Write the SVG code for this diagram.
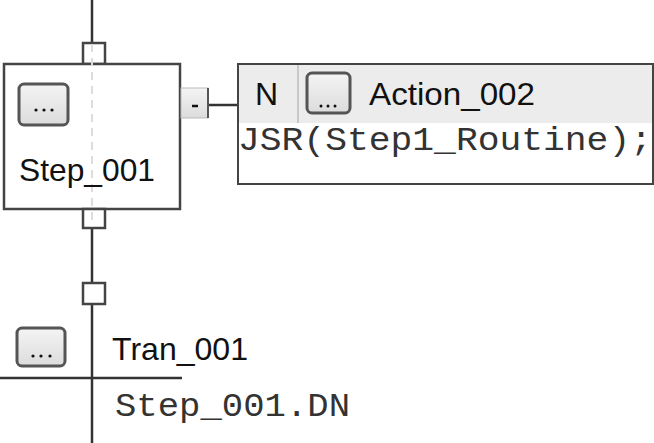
<svg xmlns="http://www.w3.org/2000/svg" width="654" height="443" viewBox="0 0 654 443">
<style>
.wire{stroke:#333;stroke-width:2.5;fill:none}
.box{fill:#fff;stroke:#444;stroke-width:2.5}
.conn{fill:#fff;stroke:#444;stroke-width:2.5}
.btn{fill:url(#g);stroke:#555;stroke-width:3}
.lbl{font-family:"Liberation Sans",Arial,sans-serif;font-size:32px;fill:#111}
.mono{font-family:"Liberation Mono","Courier New",monospace;font-size:34px;fill:#333}
.dot{fill:#111}
</style>
<defs>
<linearGradient id="g" x1="0" y1="0" x2="0" y2="1">
<stop offset="0" stop-color="#f4f4f4"/>
<stop offset="1" stop-color="#dcdcdc"/>
</linearGradient>
</defs>
<g id="connectors">
<line class="wire" x1="92" y1="0" x2="92" y2="43"/>
<line class="wire" x1="92" y1="228" x2="92" y2="283"/>
<line class="wire" x1="92" y1="304" x2="92" y2="443"/>
<line class="wire" x1="209" y1="105" x2="238" y2="105"/>
<line class="wire" x1="0" y1="378" x2="182" y2="378"/>
</g>
<g id="step_001">
<rect class="conn" x="83" y="43" width="22" height="21"/>
<rect class="box" x="4" y="64" width="176" height="145"/>
<rect class="conn" x="83" y="209" width="22" height="19"/>
<line x1="92" y1="44" x2="92" y2="227" stroke="#ddd" stroke-width="2" stroke-dasharray="8,6"/>
<rect class="btn" x="19" y="84" width="49" height="41" rx="5"/>
<circle class="dot" cx="36" cy="110" r="1.6"/><circle class="dot" cx="44" cy="110" r="1.6"/><circle class="dot" cx="52" cy="110" r="1.6"/>
<text class="lbl" x="19" y="181" textLength="136" lengthAdjust="spacingAndGlyphs">Step_001</text>
<rect x="181" y="88" width="27" height="30" fill="url(#g)" stroke="#bbb" stroke-width="1"/>
<line x1="208" y1="88" x2="208" y2="118" stroke="#555" stroke-width="2"/>
<line x1="192" y1="106" x2="198" y2="106" stroke="#111" stroke-width="2.5"/>
</g>
<g id="action_002">
<rect x="238" y="64" width="415" height="120" fill="#fff" stroke="#444" stroke-width="2"/>
<rect x="239" y="65" width="413" height="58" fill="#ececec"/>
<line x1="298" y1="65" x2="298" y2="123" stroke="#c8c8c8" stroke-width="2"/>
<text class="lbl" x="255" y="105">N</text>
<rect class="btn" x="307" y="73" width="43" height="40" rx="5"/>
<circle class="dot" cx="321" cy="106" r="1.5"/><circle class="dot" cx="328" cy="106" r="1.5"/><circle class="dot" cx="335" cy="106" r="1.5"/>
<text class="lbl" x="369" y="105" textLength="166" lengthAdjust="spacingAndGlyphs">Action_002</text>
<text class="mono" x="238" y="150" textLength="414" lengthAdjust="spacingAndGlyphs">JSR(Step1_Routine);</text>
</g>
<g id="tran_001">
<rect class="conn" x="83" y="283" width="22" height="21"/>
<rect class="btn" x="17" y="328" width="48" height="38" rx="5"/>
<circle class="dot" cx="33" cy="356" r="1.6"/><circle class="dot" cx="41" cy="356" r="1.6"/><circle class="dot" cx="50" cy="356" r="1.6"/>
<text class="lbl" x="112" y="360" textLength="136" lengthAdjust="spacingAndGlyphs">Tran_001</text>
<text class="mono" x="115" y="416" textLength="235" lengthAdjust="spacingAndGlyphs">Step_001.DN</text>
</g>
</svg>
